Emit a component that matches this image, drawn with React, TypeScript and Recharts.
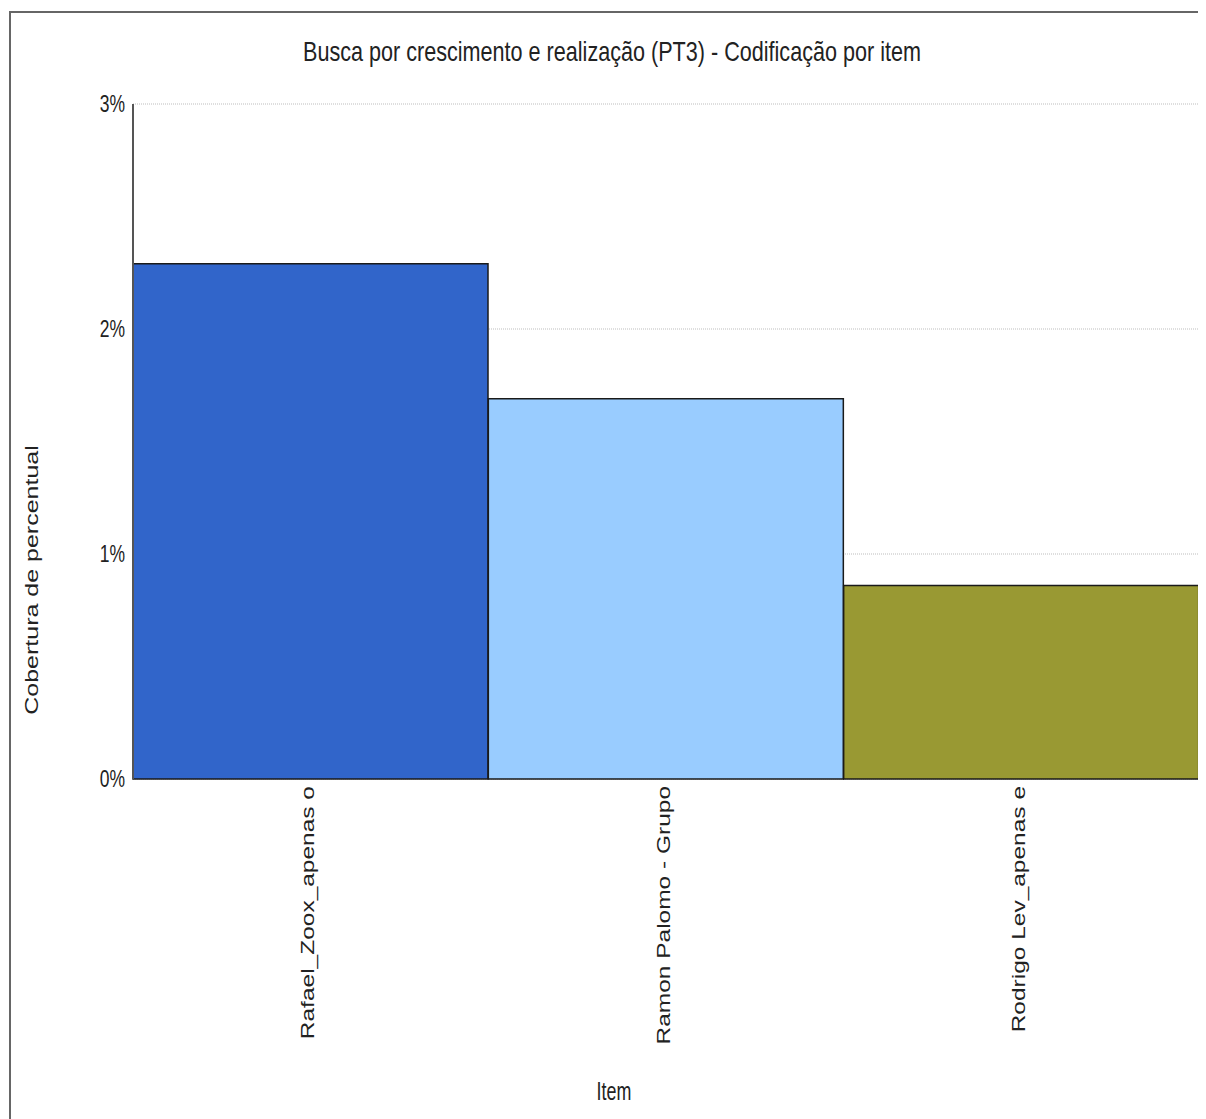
import React from "react";
import { BarChart, Bar, XAxis, YAxis, CartesianGrid, Cell } from "recharts";

// Coverage per coded item (percent)
const items = ["Rafael_Zoox_apenas o", "Ramon Palomo - Grupo", "Rodrigo Lev_apenas e"];
const coverage = [2.29, 1.69, 0.86];
const barColors = ["#3165CA", "#99CCFF", "#999933"];
const yTicks = [0, 1, 2, 3];

const chartTitle = "Busca por crescimento e realização (PT3) - Codificação por item";
const yAxisTitle = "Cobertura de percentual";
const xAxisTitle = "Item";

const data = items.map((name, i) => ({ name, value: coverage[i] }));

const FONT = "'Liberation Sans', Arial, Helvetica, sans-serif";
const TEXT = "#222";
const SX = 0.715; // narrow glyph proportion used by every label

const YTick = (props: any) => {
  const { x, y, payload } = props;
  return (
    <text
      transform={`translate(${x},${y}) scale(${SX},1)`}
      textAnchor="end"
      dominantBaseline="central"
      fontSize={24.5}
      fontFamily={FONT}
      fill={TEXT}
    >
      {`${payload.value}%`}
    </text>
  );
};

const XTick = (props: any) => {
  const { x, y, payload } = props;
  return (
    <text
      transform={`translate(${x - 2},${y - 1}) scale(${SX},1) rotate(-90)`}
      textAnchor="end"
      dominantBaseline="central"
      fontSize={24.5}
      fontFamily={FONT}
      fill={TEXT}
    >
      {payload.value}
    </text>
  );
};

export default function App() {
  return (
    <div style={{ position: "relative", width: 1198, height: 1111, overflow: "hidden", background: "#fff" }}>
      <div
        style={{
          position: "absolute",
          left: 1,
          top: 3,
          width: 1400,
          height: 1400,
          borderTop: "2px solid #666",
          borderLeft: "2px solid #666",
        }}
      />
      <div style={{ position: "absolute", left: 0, top: 0 }}>
        <BarChart
          width={1198}
          height={1111}
          data={data}
          margin={{ top: 96, right: 7, bottom: 0, left: 0 }}
          barCategoryGap={0}
        >
          <CartesianGrid vertical={false} stroke="#bdbdbd" strokeDasharray="1 1" />
          <XAxis
            dataKey="name"
            height={340}
            axisLine={false}
            tickLine={false}
            interval={0}
            tick={<XTick />}
          />
          <YAxis
            width={125}
            domain={[0, 3]}
            ticks={yTicks}
            tickLine={false}
            axisLine={{ stroke: "#555", strokeWidth: 2 }}
            tick={<YTick />}
          />
          <Bar dataKey="value" isAnimationActive={false} stroke="#1a1a1a" strokeWidth={1.5}>
            {data.map((d, i) => (
              <Cell key={d.name} fill={barColors[i]} />
            ))}
          </Bar>
          <text
            transform={`translate(604,53) scale(0.8,1)`}
            textAnchor="middle"
            fontSize={27}
            fontFamily={FONT}
            fill={TEXT}
          >
            {chartTitle}
          </text>
          <text
            transform={`translate(24,572) scale(${SX},1) rotate(-90)`}
            textAnchor="middle"
            dominantBaseline="central"
            fontSize={25}
            fontFamily={FONT}
            fill={TEXT}
          >
            {yAxisTitle}
          </text>
          <text
            transform={`translate(606,1092) scale(${SX},1)`}
            textAnchor="middle"
            fontSize={25}
            fontFamily={FONT}
            fill={TEXT}
          >
            {xAxisTitle}
          </text>
        </BarChart>
      </div>
    </div>
  );
}
